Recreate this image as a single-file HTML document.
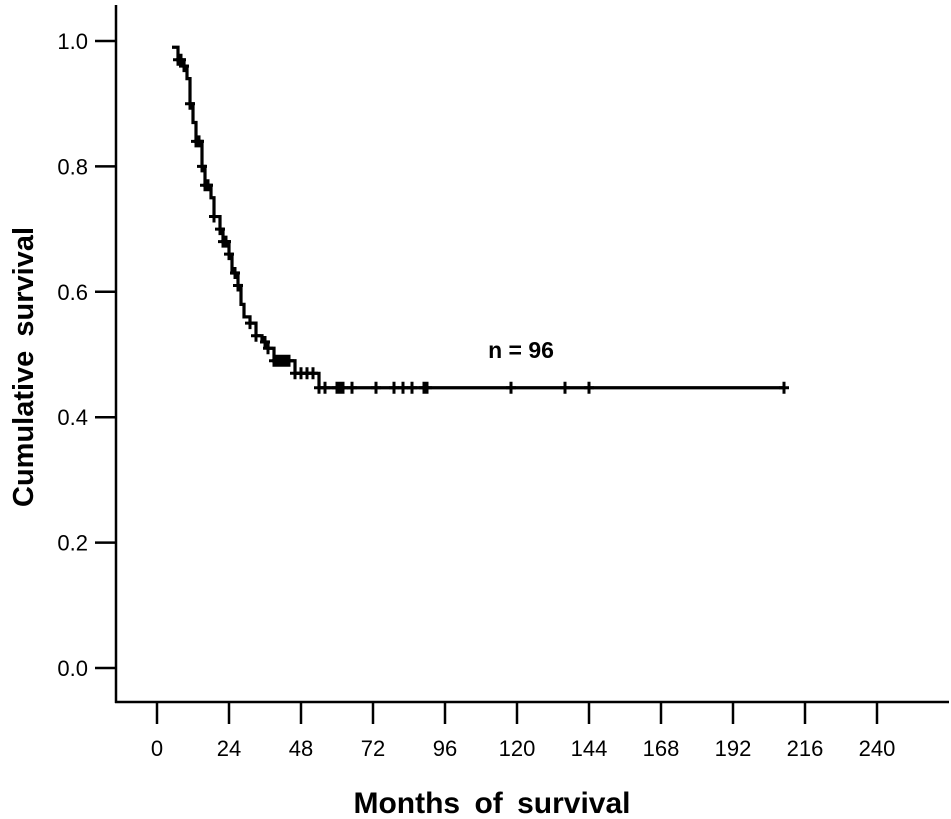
<!DOCTYPE html>
<html><head><meta charset="utf-8"><style>
body{margin:0;background:#fff}
svg{display:block;font-family:"Liberation Sans",Arial,sans-serif}
</style></head><body>
<svg id="chart" width="951" height="819" viewBox="0 0 951 819" xmlns="http://www.w3.org/2000/svg">
<g id="axes"></g>
<g id="curve"></g>
<text transform="translate(33,367) rotate(-90)" text-anchor="middle" font-size="29" font-weight="bold" word-spacing="6">Cumulative survival</text>
<text x="492" y="813" text-anchor="middle" font-size="30" font-weight="bold" word-spacing="6">Months of survival</text>
<text x="521" y="358" text-anchor="middle" font-size="23" font-weight="bold">n = 96</text>
</svg>
<script>
const xTicks=[0,24,48,72,96,120,144,168,192,216,240];
const yTicks=[0.0,0.2,0.4,0.6,0.8,1.0];
const stepMonths=[5,7,9,10,11,12,13,15,16,18,19,21,22,24,25,27,28,29,31,33,35,37,39,46,54];
const stepSurv=[0.99,0.97,0.96,0.94,0.90,0.87,0.84,0.80,0.77,0.75,0.72,0.70,0.68,0.66,0.63,0.61,0.58,0.56,0.55,0.53,0.52,0.51,0.49,0.47,0.447];
const endMonth=209;
const censorMonths=[7,8,9,11,13,14,15,16,17,19,21,22,23,24,26,27,31,33,36,37,39,40,41,42,43,44,46,48,50,52,54,56,60,61,62,65,73,79,82,85,89,90,118,136,144,209];
const NS="http://www.w3.org/2000/svg";
const X=m=>157+m*3;
const Y=v=>668-v*627;
function mk(t,a,p){const e=document.createElementNS(NS,t);for(const k in a)e.setAttribute(k,a[k]);p.appendChild(e);return e;}
const ax=document.getElementById('axes');
const yl=mk('line',{x1:116,y1:5,x2:116,y2:703,stroke:'#000','stroke-width':2.5},ax);


const xl=mk('line',{x1:115,y1:702,x2:949,y2:702,stroke:'#000','stroke-width':2.5},ax);


xTicks.forEach(t=>{
 const l=mk('line',{x1:X(t),y1:702,x2:X(t),y2:724,stroke:'#000','stroke-width':2.5},ax);
 
 
 const tx=mk('text',{x:X(t),y:756,'text-anchor':'middle','font-size':22},ax);
 tx.textContent=t;
 
 
});
yTicks.forEach(t=>{
 const l=mk('line',{x1:95,y1:Y(t),x2:116,y2:Y(t),stroke:'#000','stroke-width':2.5},ax);
 
 
 const tx=mk('text',{x:88,y:Y(t)+8,'text-anchor':'end','font-size':22},ax);
 tx.textContent=t.toFixed(1);
 
 
});
const cg=document.getElementById('curve');
let d='M'+X(stepMonths[0])+','+Y(stepSurv[0]);
for(let i=1;i<stepMonths.length;i++){d+=' H'+X(stepMonths[i])+' V'+Y(stepSurv[i]);}
d+=' H'+X(endMonth);
const p=mk('path',{d:d,fill:'none',stroke:'#000','stroke-width':3.2},cg);


function survAt(m){let s=stepSurv[0];for(let i=0;i<stepMonths.length;i++){if(stepMonths[i]<=m)s=stepSurv[i];}return s;}
censorMonths.forEach(m=>{
 const x=X(m),y=Y(survAt(m));
 const c=mk('path',{d:`M${x-5},${y} H${x+5} M${x},${y-6} V${y+6}`,stroke:'#000','stroke-width':3},cg);
 
 
});
</script>
</body></html>
